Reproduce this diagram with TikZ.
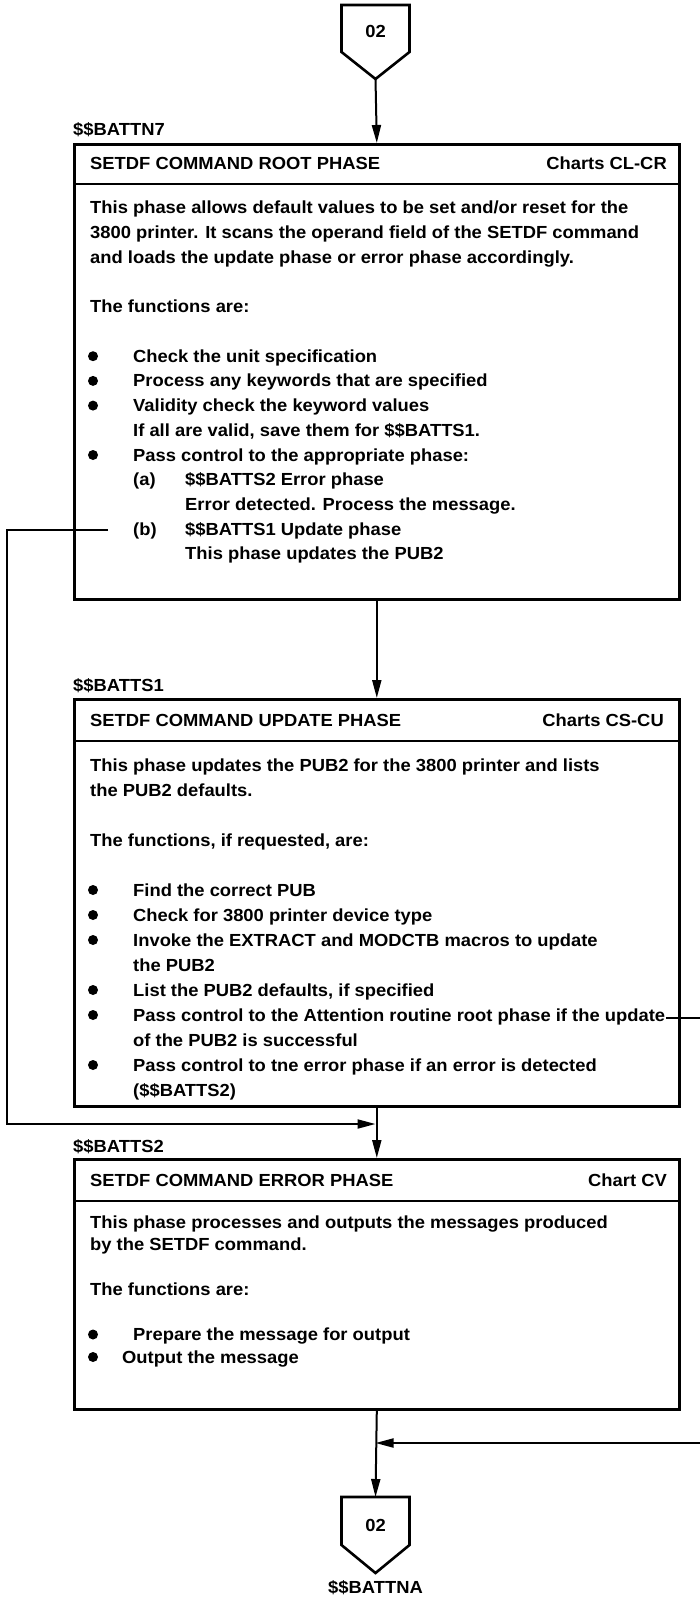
\documentclass[tikz,border=0pt]{standalone}
\usepackage{fontspec}
\setmainfont{Liberation Sans}[FakeStretch=1.05]
\usetikzlibrary{arrows.meta}
\newcommand\myfs{\fontsize{17.5}{21}\selectfont\bfseries}
\begin{document}
\begin{tikzpicture}[x=1pt,y=-1pt,
  box/.style={draw, line width=2.6pt, rectangle, anchor=north west, inner sep=0pt, minimum width=605pt},
  sepline/.style={line width=2.4pt},
  txt/.style={anchor=base west, inner sep=0pt, font=\myfs},
  rtxt/.style={anchor=base east, inner sep=0pt, font=\myfs},
  ctxt/.style={anchor=center, inner sep=0pt, font=\myfs},
  dot/.style={circle, fill=black, inner sep=0pt, minimum size=10pt},
  conn/.style={line width=2pt},
  arr/.style={-{Triangle[length=18pt,width=9pt]}},
  pent/.style={line width=2.6pt, line join=miter}]
\useasboundingbox (0,0) rectangle (700,1602);

% top off-page connector
\draw[pent] (341.5,5) -- (409.5,5) -- (409.5,52) -- (375.5,79) -- (341.5,52) -- cycle;
\node[ctxt] (p1) at (375.5,31) {02};
\coordinate (p1tip) at (375.5,79);

% ---------- box 1 ----------
\node[txt] (l1) at (73,136) {\$\$BATTN7};
\node[box, minimum height=455pt] (b1) at (73,143) {};
\draw[sepline] (b1.west |- 0,184) -- (b1.east |- 0,184);
\node[txt] (h1) at (90,170) {SETDF COMMAND ROOT PHASE};
\node[rtxt] (c1) at (667,170) {Charts CL-CR};
\node[txt] (a1) at (90,214) {This phase allows default values to be set and/or reset for the};
\node[txt] (a2) at (90,238.7) {3800 printer. It scans the operand field of the SETDF command};
\node[txt] (a3) at (90,263.4) {and loads the update phase or error phase accordingly.};
\node[txt] (a4) at (90,312.8) {The functions are:};
\node[dot] (d11) at (93,356.2) {};
\node[txt] (a5) at (133,362.2) {Check the unit specification};
\node[dot] (d12) at (93,380.9) {};
\node[txt] (a6) at (133,386.9) {Process any keywords that are specified};
\node[dot] (d13) at (93,405.6) {};
\node[txt] (a7) at (133,411.6) {Validity check the keyword values};
\node[txt] (a8) at (133,436.3) {If all are valid, save them for \$\$BATTS1.};
\node[dot] (d14) at (93,455) {};
\node[txt] (a9) at (133,461) {Pass control to the appropriate phase:};
\node[txt] (a10) at (133,485.7) {(a)};
\node[txt] (a11) at (185,485.7) {\$\$BATTS2 Error phase};
\node[txt] (a12) at (185,510.4) {Error detected. Process the message.};
\node[txt] (a13) at (133,535.1) {(b)};
\node[txt] (a14) at (185,535.1) {\$\$BATTS1 Update phase};
\node[txt] (a15) at (185,559.8) {This phase updates the PUB2};

% ---------- box 2 ----------
\node[txt] (l2) at (73,691) {\$\$BATTS1};
\node[box, minimum height=407pt] (b2) at (73,698) {};
\draw[sepline] (b2.west |- 0,741) -- (b2.east |- 0,741);
\node[txt] (h2) at (90,726) {SETDF COMMAND UPDATE PHASE};
\node[rtxt] (c2) at (664,726) {Charts CS-CU};
\node[txt] (e1) at (90,771) {This phase updates the PUB2 for the 3800 printer and lists};
\node[txt] (e2) at (90,796) {the PUB2 defaults.};
\node[txt] (e3) at (90,846) {The functions, if requested, are:};
\node[dot] (d21) at (93,890) {};
\node[txt] (e4) at (133,896) {Find the correct PUB};
\node[dot] (d22) at (93,915) {};
\node[txt] (e5) at (133,921) {Check for 3800 printer device type};
\node[dot] (d23) at (93,940) {};
\node[txt] (e6) at (133,946) {Invoke the EXTRACT and MODCTB macros to update};
\node[txt] (e7) at (133,971) {the PUB2};
\node[dot] (d24) at (93,990) {};
\node[txt] (e8) at (133,996) {List the PUB2 defaults, if specified};
\node[dot] (d25) at (93,1015) {};
\node[txt] (e9) at (133,1021) {Pass control to the Attention routine root phase if the update};
\node[txt] (e10) at (133,1046) {of the PUB2 is successful};
\node[dot] (d26) at (93,1065) {};
\node[txt] (e11) at (133,1071) {Pass control to tne error phase if an error is detected};
\node[txt] (e12) at (133,1096) {(\$\$BATTS2)};

% ---------- box 3 ----------
\node[txt] (l3) at (73,1152) {\$\$BATTS2};
\node[box, minimum height=250pt] (b3) at (73,1158) {};
\draw[sepline] (b3.west |- 0,1201) -- (b3.east |- 0,1201);
\node[txt] (h3) at (90,1186) {SETDF COMMAND ERROR PHASE};
\node[rtxt] (c3) at (667,1186) {Chart CV};
\node[txt] (g1) at (90,1228) {This phase processes and outputs the messages produced};
\node[txt] (g2) at (90,1250.5) {by the SETDF command.};
\node[txt] (g3) at (90,1295.5) {The functions are:};
\node[dot] (d31) at (93,1334.5) {};
\node[txt] (g4) at (133,1340.5) {Prepare the message for output};
\node[dot] (d32) at (93,1357) {};
\node[txt] (g5) at (122,1363) {Output the message};

% bottom off-page connector
\draw[pent] (341.5,1497) -- (409.5,1497) -- (409.5,1545) -- (375.5,1573) -- (341.5,1545) -- cycle;
\node[ctxt] (p2) at (375.5,1525) {02};
\coordinate (p2top) at (375.5,1497);
\node[ctxt] (l4) at (375.5,1588) {\$\$BATTNA};

% ---------- connectors ----------
\draw[conn,arr] (p1tip) -- (b1.north);
\draw[conn,arr] (b1.south) -- (b2.north);
\draw[conn,arr] (b2.south) -- (b3.north);
\draw[conn,arr] (b3.south) -- (p2top);

\coordinate (ls) at (108,530);
\coordinate (lc1) at (7,530);
\coordinate (lc2) at (7,1124);
\coordinate (lm) at (375.5,1124);
\draw[conn,arr] (ls) -- (lc1) -- (lc2) -- (lm);

\coordinate (rs) at (666,1018);
\coordinate (re) at (700,1018);
\draw[conn] (rs) -- (re);

\coordinate (ri) at (700,1443);
\coordinate (rm) at (375.5,1443);
\draw[conn,arr] (ri) -- (rm);
\end{tikzpicture}
\end{document}
